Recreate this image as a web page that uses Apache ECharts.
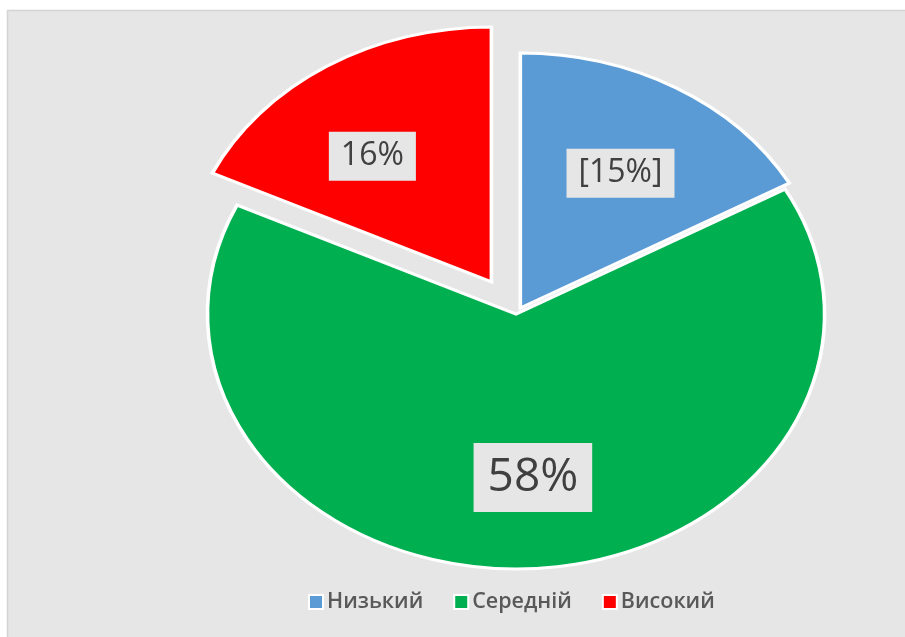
<!DOCTYPE html>
<html>
<head>
<meta charset="utf-8">
<script src="https://cdn.jsdelivr.net/npm/echarts@6/dist/echarts.min.js"></script>
<style>
  html, body { margin: 0; padding: 0; background: #ffffff; }
  #chart { width: 905px; height: 637px; }
</style>
</head>
<body>
<div id="chart"></div>
<script>
// ---- data ----
const categories = ['Низький', 'Середній', 'Високий'];
const values = [15, 58, 16];
const labelTexts = ['[15%]', '58%', '16%'];

// ---- styles ----
const sliceColors = { 'Низький': '#5b9bd5', 'Середній': '#00b050', 'Високий': '#ff0000' };
const explodePx = { 'Низький': 7, 'Середній': 0, 'Високий': 38 };
const labelFont = { 'Низький': 32, 'Середній': 46, 'Високий': 32 };
const labelNudge = { 'Низький': [2, 4], 'Середній': [10, 3], 'Високий': [-15, 10] };
const BG = '#e6e6e6';
const CENTER = [0.5702, 314 / 637];   // fraction of width / height
const RADIUS_Y = 255;                 // px (vertical radius)
const STRETCH_X = 1.21;               // ellipse horizontal stretch
const LABEL_POS = 0.63;               // label distance along bisector

const total = values.reduce((a, b) => a + b, 0);
const cumStart = [];
values.reduce((acc, v, i) => { cumStart[i] = acc; return acc + v; }, 0);

function makeRenderItem(idx) {
  return function (params, api) {
    const W = api.getWidth(), H = api.getHeight();
    const cx = W * CENTER[0], cy = H * CENTER[1];
    const r = RADIUS_Y;
    const v = api.value(0);
    const a0 = -Math.PI / 2 + cumStart[idx] / total * Math.PI * 2;
    const a1 = a0 + v / total * Math.PI * 2;
    const mid = (a0 + a1) / 2;
    const name = categories[idx];
    const d = explodePx[name];
    const ox = Math.cos(mid) * d, oy = Math.sin(mid) * d;
    const nudge = labelNudge[name];
    const lx = cx + STRETCH_X * (ox + Math.cos(mid) * r * LABEL_POS) + nudge[0];
    const ly = cy + oy + Math.sin(mid) * r * LABEL_POS + nudge[1];
    const fs = labelFont[name];
    return {
      type: 'group',
      children: [
        {
          type: 'group',
          x: cx, y: cy,
          scaleX: STRETCH_X, scaleY: 1,
          children: [{
            type: 'sector',
            shape: { cx: ox, cy: oy, r0: 0, r: r, startAngle: a0, endAngle: a1, clockwise: true },
            style: { fill: sliceColors[name], stroke: '#ffffff', lineWidth: 3, strokeNoScale: true }
          }]
        },
        {
          type: 'text',
          x: lx, y: ly,
          z2: 10,
          style: {
            text: labelTexts[idx],
            fontFamily: 'Open Sans',
            fontSize: fs,
            lineHeight: Math.round(fs * 1.15),
            fill: '#404040',
            align: 'center',
            verticalAlign: 'middle',
            backgroundColor: BG,
            padding: fs > 40 ? [8, 14, 8, 14] : [6, 12, 6, 12]
          }
        }
      ]
    };
  };
}

const series = categories.map((name, i) => ({
  type: 'custom',
  name: name,
  coordinateSystem: 'none',
  color: sliceColors[name],
  renderItem: makeRenderItem(i),
  data: [[values[i]]],
  silent: true
}));

const chart = echarts.init(document.getElementById('chart'), null, { renderer: 'canvas' });
chart.setOption({
  animation: false,
  backgroundColor: '#ffffff',
  graphic: [{
    type: 'rect',
    z: -10,
    shape: { x: 7.5, y: 10.5, width: 905, height: 640 },
    style: { fill: BG, stroke: '#d4d4d4', lineWidth: 1.5 }
  }],
  legend: {
    data: categories,
    bottom: 19,
    left: 303,
    icon: 'rect',
    itemWidth: 14,
    itemHeight: 14,
    itemGap: 30,
    itemStyle: { borderColor: '#ffffff', borderWidth: 2 },
    textStyle: { color: '#595959', fontSize: 21.5, fontFamily: 'Open Sans', fontWeight: 600, padding: [0, 0, 0, -1] }
  },
  series: series
});
</script>
</body>
</html>
